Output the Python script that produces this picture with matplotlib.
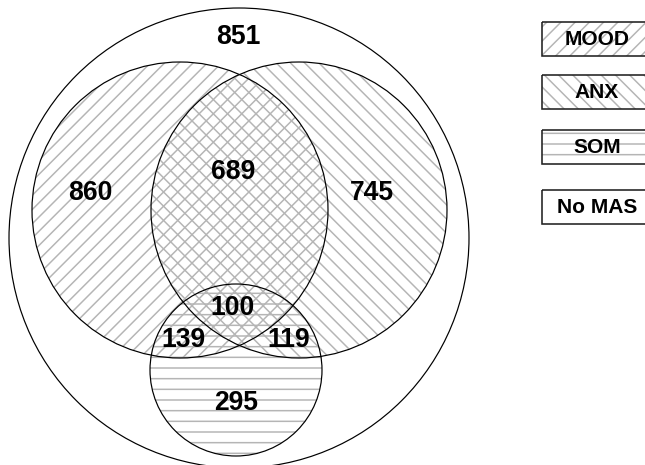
import matplotlib
matplotlib.use("Agg")
import matplotlib.pyplot as plt
from matplotlib.patches import Circle, Rectangle

# ---- data ----
region_values = [851, 860, 689, 745, 100, 139, 119, 295]
legend_labels = ["MOOD", "ANX", "SOM", "No MAS"]

# ---- layout (pixel units) ----
W, H = 645, 465
DPI = 128
def px(v):
    return v * 72.0 / DPI

HATCH_COLOR = "#b5b5b5"
plt.rcParams["hatch.linewidth"] = px(1.5)
plt.rcParams["font.family"] = ["Liberation Sans", "DejaVu Sans"]

fig = plt.figure(figsize=(W / DPI, H / DPI), dpi=DPI)
ax = fig.add_axes([0, 0, 1, 1])
ax.set_xlim(0, W)
ax.set_ylim(H, 0)
ax.axis("off")

set_hatches = ["///", "\\\\\\", "--"]
outer = dict(center=(239, 238), r=230)
sets = [
    dict(center=(180, 210), r=148),
    dict(center=(299, 210), r=148),
    dict(center=(236, 370), r=86),
]

ax.add_patch(Circle(outer["center"], outer["r"], fill=False, ec="black", lw=px(1.2)))
for s, hat in zip(sets, set_hatches):
    ax.add_patch(Circle(s["center"], s["r"], fill=False, ec=HATCH_COLOR, lw=0,
                        hatch=hat))
for s in sets:
    ax.add_patch(Circle(s["center"], s["r"], fill=False, ec="black", lw=px(1.2)))

label_pos = [(238, 37), (90, 193), (233, 172), (372, 193),
             (233, 308), (183, 340), (289, 340), (236, 403)]
for v, (x, y) in zip(region_values, label_pos):
    ax.text(x, y, str(v), ha="center", va="center", fontsize=px(26.5),
            fontweight="bold", color="black")

legend_hatches = set_hatches + [None]
box_y = [22, 75, 130, 190]
for lab, hat, y in zip(legend_labels, legend_hatches, box_y):
    if hat:
        ax.add_patch(Rectangle((542, y), 110, 34, fill=False, ec=HATCH_COLOR,
                               lw=0, hatch=hat))
    ax.add_patch(Rectangle((542, y), 110, 34, fill=False, ec="#222222",
                           lw=px(1.6)))
    ax.text(597, y + 17.5, lab, ha="center", va="center", fontsize=px(21),
            fontweight="bold", color="black")

fig.savefig("out.png", dpi=DPI)
